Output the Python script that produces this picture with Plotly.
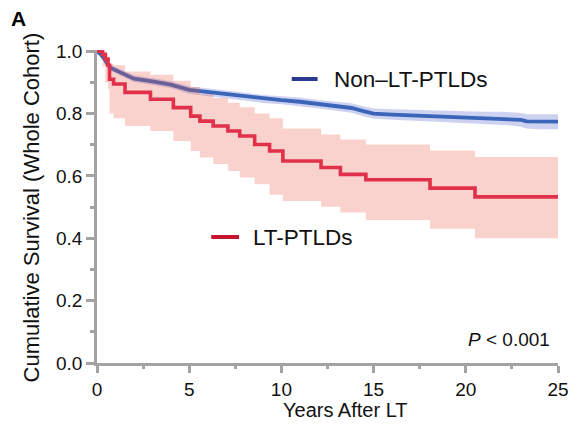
import plotly.graph_objects as go

# ---- data ----
# LT-PTLDs Kaplan-Meier (step function) with 95% CI
red_t = [0, 0.3, 0.45, 0.6, 0.68, 0.9, 1.52, 2.9, 4.14, 5.08, 5.58, 6.3, 7.1, 7.74, 8.55, 9.36, 10.08, 12.15, 13.2, 14.58, 18.06, 20.5, 25]
red_s = [1.0, 0.99, 0.975, 0.955, 0.91, 0.895, 0.868, 0.846, 0.819, 0.792, 0.776, 0.76, 0.744, 0.728, 0.701, 0.68, 0.648, 0.627, 0.605, 0.588, 0.561, 0.533, 0.533]
red_lo = [1.0, 0.95, 0.90, 0.88, 0.80, 0.785, 0.76, 0.744, 0.712, 0.68, 0.659, 0.638, 0.616, 0.595, 0.573, 0.54, 0.52, 0.501, 0.483, 0.459, 0.431, 0.40, 0.40]
red_hi = [1.0, 1.0, 0.99, 0.975, 0.96, 0.955, 0.935, 0.925, 0.905, 0.885, 0.862, 0.85, 0.835, 0.82, 0.80, 0.785, 0.752, 0.733, 0.717, 0.701, 0.682, 0.661, 0.661]

# Non-LT-PTLDs Kaplan-Meier (fine steps, drawn as a line) with 95% CI
blue_t = [0, 0.2, 0.4, 0.6, 0.8, 1.0, 1.5, 2.0, 3.0, 4.0, 5.0, 6.0, 7.0, 8.0, 9.0, 10.0, 11.0, 12.0, 13.0, 13.8, 14.5, 15.0, 16, 17, 18, 19, 20, 21, 22, 22.5, 23, 23.3, 24, 25]
blue_s = [1.0, 0.99, 0.975, 0.955, 0.945, 0.94, 0.925, 0.912, 0.903, 0.893, 0.876, 0.869, 0.862, 0.854, 0.847, 0.843, 0.838, 0.83, 0.824, 0.818, 0.807, 0.80, 0.797, 0.795, 0.792, 0.79, 0.788, 0.786, 0.785, 0.783, 0.78, 0.775, 0.774, 0.774]
blue_hw = [0.0, 0.006, 0.008, 0.009, 0.01, 0.01, 0.01, 0.011, 0.011, 0.011, 0.012, 0.012, 0.012, 0.013, 0.013, 0.013, 0.014, 0.014, 0.015, 0.015, 0.016, 0.016, 0.017, 0.017, 0.018, 0.018, 0.019, 0.02, 0.021, 0.021, 0.022, 0.023, 0.024, 0.024]
blue_lo = [s - h for s, h in zip(blue_s, blue_hw)]
blue_hi = [s + h for s, h in zip(blue_s, blue_hw)]

x_ticks = [0, 5, 10, 15, 20, 25]
y_ticks = [0.0, 0.2, 0.4, 0.6, 0.8, 1.0]
y_labels = ["0.0", "0.2", "0.4", "0.6", "0.8", "1.0"]

FONT = "Liberation Sans, Arial, Helvetica, sans-serif"
AXC = "#a3a3a3"

fig = go.Figure()

# blue CI band
fig.add_trace(go.Scatter(x=blue_t, y=blue_lo, mode="lines", line=dict(width=0),
                         showlegend=False, hoverinfo="skip"))
fig.add_trace(go.Scatter(x=blue_t, y=blue_hi, mode="lines", line=dict(width=0),
                         fill="tonexty", fillcolor="rgba(120,130,215,0.36)",
                         showlegend=False, hoverinfo="skip"))
# blue line
fig.add_trace(go.Scatter(x=blue_t, y=blue_s, mode="lines",
                         line=dict(color="#3a65b8", width=3.8),
                         showlegend=False, name="Non–LT-PTLDs"))
# red CI band (semi-transparent, on top of blue line)
fig.add_trace(go.Scatter(x=red_t, y=red_lo, mode="lines", line=dict(width=0, shape="hv"),
                         showlegend=False, hoverinfo="skip"))
fig.add_trace(go.Scatter(x=red_t, y=red_hi, mode="lines", line=dict(width=0, shape="hv"),
                         fill="tonexty", fillcolor="rgba(235,90,70,0.27)",
                         showlegend=False, hoverinfo="skip"))
# red line
fig.add_trace(go.Scatter(x=red_t, y=red_s, mode="lines",
                         line=dict(color="#e0304a", width=3.6, shape="hv"),
                         showlegend=False, name="LT-PTLDs"))

axis_common = dict(
    showgrid=False, zeroline=False, showline=True, linecolor=AXC, linewidth=2.5,
    ticks="outside", tickcolor=AXC, tickwidth=2.5,
    tickfont=dict(family=FONT, size=19, color="#111111"),
)
fig.update_xaxes(range=[0, 25], tickvals=x_ticks, ticklen=7,
                 minor=dict(dtick=2.5, ticklen=3, tickcolor=AXC, tickwidth=2.5, ticks="outside"),
                 **axis_common)
fig.update_yaxes(range=[0, 1.004], tickvals=y_ticks, ticktext=y_labels, ticklen=8,
                 minor=dict(dtick=0.1, ticklen=4, tickcolor=AXC, tickwidth=2.5, ticks="outside"),
                 **axis_common)

PW, PH, L, B = 464, 313, 97, 363  # plot-area size and origin in pixels, for paper placement

def px(xp):
    return (xp - L) / PW

def py(yp):
    return (B - yp) / PH

# legend keys (drawn in paper space) and text
fig.add_shape(type="line", xref="paper", yref="paper",
              x0=px(293), x1=px(319), y0=py(79), y1=py(79),
              line=dict(color="#2b3a8f", width=4))
fig.add_shape(type="line", xref="paper", yref="paper",
              x0=px(212), x1=px(240), y0=py(237), y1=py(237),
              line=dict(color="#c8142e", width=4))

annotations = [
    dict(text="Non–LT-PTLDs", x=px(334), y=py(79), xanchor="left", yanchor="middle",
         font=dict(size=22.5, family=FONT, color="#111111")),
    dict(text="LT-PTLDs", x=px(252), y=py(237), xanchor="left", yanchor="middle",
         font=dict(size=22.5, family=FONT, color="#111111")),
    dict(text="<i>P</i> < 0.001", x=px(555), y=py(339), xanchor="right", yanchor="middle",
         font=dict(size=19, family=FONT, color="#111111")),
    dict(text="Years After LT", x=px(347), y=py(410), xanchor="center", yanchor="middle",
         font=dict(size=20, family=FONT, color="#111111")),
    dict(text="Cumulative Survival (Whole Cohort)", x=px(31), y=py(207),
         xanchor="center", yanchor="middle", textangle=-90,
         font=dict(size=22, family=FONT, color="#111111")),
    dict(text="<b>A</b>", x=px(18), y=py(18), xanchor="center", yanchor="middle",
         font=dict(size=21, family=FONT, color="#000000")),
]
for a in annotations:
    a.update(xref="paper", yref="paper", showarrow=False)
fig.update_layout(annotations=annotations)

fig.update_layout(
    width=581, height=426,
    margin=dict(l=97, r=20, t=50, b=63),
    paper_bgcolor="white", plot_bgcolor="white",
    showlegend=False,
)

fig.write_html("out.html", config={"displayModeBar": False},
               post_script="document.body.style.margin='0px';")
